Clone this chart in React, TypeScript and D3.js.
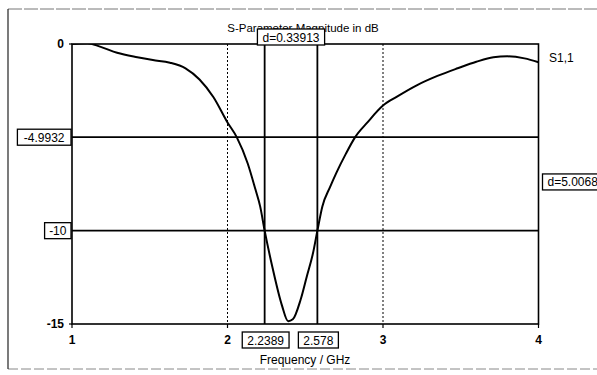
import React from 'react';
import * as d3 from 'd3';

// S1,1 magnitude (dB)
const freqs = [1.0, 1.05, 1.1, 1.18, 1.29, 1.42, 1.52, 1.63, 1.73, 1.82, 1.91, 2.0, 2.06, 2.13, 2.18, 2.21, 2.2389, 2.29, 2.35, 2.39, 2.42, 2.47, 2.51, 2.55, 2.578, 2.61, 2.66, 2.7, 2.76, 2.82, 2.9, 3.0, 3.09, 3.22, 3.35, 3.48, 3.6, 3.71, 3.8, 3.91, 4.0];
const s11 = [0.0, 0.03, 0.04, -0.14, -0.47, -0.71, -0.86, -1.0, -1.3, -1.9, -2.85, -4.2, -5.0, -6.4, -7.8, -8.7, -10.0, -12.0, -14.0, -14.85, -14.75, -13.7, -12.45, -11.2, -10.0, -8.7, -7.65, -6.9, -5.9, -5.0, -4.2, -3.3, -2.82, -2.2, -1.71, -1.3, -0.95, -0.71, -0.66, -0.77, -0.98];

const xTicks = [1, 2, 3, 4];
const yTicks = [0, -15];
const xGrid = [2, 3];
const hMarkers = [-4.9932, -10];
const hMarkerLabels = ['-4.9932', '-10'];
const vMarkers = [2.2389, 2.578];
const vMarkerLabels = ['2.2389', '2.578'];
const dxLabel = 'd=0.33913';
const dyLabel = 'd=5.0068';

const W = 597;
const H = 375;
const font = 'Liberation Sans, Arial, sans-serif';

const Box = ({ cx, cy, text, anchor = 'middle' }: { cx: number; cy: number; text: string; anchor?: string }) => {
  const w = text.length * 6.8 + 6;
  const h = 16;
  const x0 = anchor === 'end' ? cx - w : anchor === 'start' ? cx : cx - w / 2;
  return (
    <g>
      <rect x={x0} y={cy - h / 2} width={w} height={h} fill="#fff" stroke="#000" strokeWidth={1.3} />
      <text x={x0 + w / 2} y={cy + 4.5} textAnchor="middle" fontSize={12} fontFamily={font} fill="#000">{text}</text>
    </g>
  );
};

export default function App() {
  const x = d3.scaleLinear().domain([1, 4]).range([72, 538.5]);
  const y = d3.scaleLinear().domain([0, -15]).range([44, 324]);
  const pts = freqs.map((f, i) => [f, s11[i]] as [number, number]);
  const line = d3.line<[number, number]>()
    .x((d) => x(d[0]))
    .y((d) => y(d[1]))
    .curve(d3.curveMonotoneX);

  const [x0, x1] = x.range();
  const [y0, y1] = y.range();

  return (
    <svg width={W} height={H} style={{ position: 'absolute', left: 0, top: 0, background: '#fff' }}>
      {/* outer frame */}
      <line x1={8} y1={9} x2={W} y2={9} stroke="#777" strokeWidth={1} strokeDasharray="14 2" />
      <line x1={8} y1={369} x2={W} y2={369} stroke="#888" strokeWidth={1} strokeDasharray="10 3" />
      <line x1={8} y1={9} x2={8} y2={369} stroke="#222" strokeWidth={1.2} />

      <defs>
        <clipPath id="plot">
          <rect x={x0} y={y0} width={x1 - x0} height={y1 - y0} />
        </clipPath>
      </defs>

      {/* dotted grid */}
      {xGrid.map((g) => (
        <line key={g} x1={x(g)} x2={x(g)} y1={y0} y2={y1} stroke="#000" strokeWidth={1} strokeDasharray="2 2" />
      ))}

      {/* marker lines */}
      {hMarkers.map((m) => (
        <line key={m} x1={x0} x2={x1} y1={y(m)} y2={y(m)} stroke="#000" strokeWidth={1.8} />
      ))}
      {vMarkers.map((m) => (
        <line key={m} x1={x(m)} x2={x(m)} y1={y0} y2={y1} stroke="#000" strokeWidth={1.8} />
      ))}

      {/* plot frame */}
      <rect x={x0} y={y0} width={x1 - x0} height={y1 - y0} fill="none" stroke="#000" strokeWidth={1.6} />

      {/* curve */}
      <path d={line(pts) ?? ''} fill="none" stroke="#000" strokeWidth={2} clipPath="url(#plot)" />

      {/* ticks */}
      {xTicks.map((t) => (
        <g key={t}>
          <line x1={x(t)} x2={x(t)} y1={y1} y2={y1 + 4} stroke="#000" strokeWidth={1.2} />
          <text x={x(t)} y={y1 + 20} textAnchor="middle" fontSize={12} fontWeight="bold" fontFamily={font}>{t}</text>
        </g>
      ))}
      {yTicks.map((t) => (
        <g key={t}>
          <line x1={x0 - 3} x2={x0} y1={y(t)} y2={y(t)} stroke="#000" strokeWidth={1.2} />
          <text x={x0 - 8} y={y(t) + 4} textAnchor="end" fontSize={12} fontWeight="bold" fontFamily={font}>{t === 0 ? '0' : '-' + Math.abs(t)}</text>
        </g>
      ))}

      {/* title (partly covered by the delta box, as in the original) */}
      <text x={303} y={32} textAnchor="middle" fontSize={11.5} fontFamily={font}>S-Parameter Magnitude in dB</text>

      {/* marker boxes */}
      {hMarkers.map((m, i) => (
        <Box key={m} cx={x0 - 1} cy={y(m)} text={hMarkerLabels[i]} anchor="end" />
      ))}
      {vMarkers.map((m, i) => (
        <Box key={m} cx={x(m) + 1} cy={y1 + 16} text={vMarkerLabels[i]} />
      ))}
      <Box cx={(x(vMarkers[0]) + x(vMarkers[1])) / 2} cy={37} text={dxLabel} />
      <Box cx={x1 + 4} cy={(y(hMarkers[0]) + y(hMarkers[1])) / 2 - 2} text={dyLabel} anchor="start" />

      {/* legend / axis label */}
      <text x={549} y={62} fontSize={12} fontFamily={font}>S1,1</text>
      <text x={305} y={364} textAnchor="middle" fontSize={12} fontFamily={font}>Frequency / GHz</text>
    </svg>
  );
}
